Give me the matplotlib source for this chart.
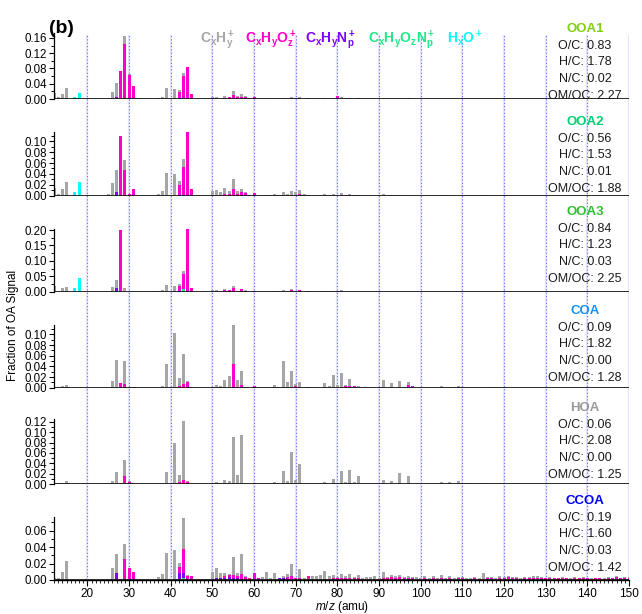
import numpy as np
import matplotlib
matplotlib.use("Agg")
import matplotlib.pyplot as plt
from matplotlib.ticker import MultipleLocator, FormatStrFormatter

plt.rcParams['font.family'] = ['Liberation Sans', 'DejaVu Sans']
plt.rcParams['mathtext.fontset'] = 'custom'
plt.rcParams['mathtext.rm'] = 'Liberation Sans'
plt.rcParams['mathtext.it'] = 'Liberation Sans:italic'
plt.rcParams['mathtext.bf'] = 'Liberation Sans:bold'

mz = np.arange(12, 151)

# ---- spectra, (m/z, fraction) pairs per ion family ----
ooa1_ch = [(12, .017), (13, .006), (14, .013), (15, .030), (25, .002), (26, .018), (27, .038), (29, .019),
           (30, .002), (37, .002), (38, .005), (39, .030), (41, .025), (42, .006), (43, .010), (44, .002),
           (50, .004), (51, .004), (53, .006), (55, .012), (56, .003), (57, .006), (58, .002), (63, .001),
           (65, .002), (67, .003), (69, .003), (71, .001), (77, .002), (79, .002), (81, .002), (91, .002), (93, .001)]
ooa1_cho = [(28, .073), (29, .145), (30, .063), (31, .034), (42, .015), (43, .057), (44, .083), (45, .013),
            (47, .001), (53, .002), (54, .004), (55, .010), (56, .004), (57, .006), (58, .005), (59, .003),
            (60, .005), (69, .002), (70, .002), (71, .003), (72, .001), (73, .002), (80, .008), (81, .002),
            (82, .002), (83, .002), (84, .001), (85, .002), (97, .003), (98, .001)]
ooa1_chn = [(27, .004), (42, .003)]
ooa1_chon = [(43, .002)]
ooa1_ho = [(17, .004), (18, .016)]

ooa2_ch = [(12, .015), (13, .004), (14, .013), (15, .025), (25, .004), (26, .023), (27, .042), (29, .019),
           (37, .004), (38, .009), (39, .042), (41, .039), (42, .007), (43, .014), (50, .009), (51, .010),
           (52, .007), (53, .012), (54, .005), (55, .018), (56, .005), (57, .006), (58, .002), (63, .002),
           (65, .003), (66, .002), (67, .006), (68, .004), (69, .007), (70, .004), (71, .008), (72, .002),
           (77, .003), (79, .003), (81, .003), (82, .001), (83, .002), (91, .004), (93, .002), (95, .002),
           (105, .001), (115, .001)]
ooa2_cho = [(28, .110), (29, .047), (30, .004), (31, .012), (42, .018), (43, .051), (44, .117), (45, .012),
            (47, .001), (53, .003), (54, .003), (55, .013), (56, .004), (57, .006), (58, .005), (59, .002),
            (60, .005), (69, .002), (70, .002), (71, .003), (72, .002), (73, .002), (81, .002), (82, .001),
            (83, .001), (84, .001), (85, .001)]
ooa2_chn = [(27, .006), (42, .002)]
ooa2_chon = [(43, .002)]
ooa2_ho = [(17, .006), (18, .025)]

ooa3_ch = [(12, .018), (13, .002), (14, .011), (15, .014), (26, .016), (27, .024), (29, .011), (37, .003),
           (38, .006), (39, .022), (41, .018), (42, .005), (43, .008), (44, .003), (50, .004), (51, .005),
           (52, .003), (53, .004), (55, .006), (56, .003), (57, .002), (58, .002), (65, .003), (67, .004),
           (68, .002), (69, .003), (70, .002), (77, .002), (79, .002), (81, .002)]
ooa3_cho = [(28, .200), (42, .017), (43, .049), (44, .202), (45, .013), (53, .005), (54, .006), (55, .012),
            (57, .008), (58, .002), (60, .002), (69, .006), (71, .006), (73, .002), (80, .002), (81, .002)]
ooa3_chn = [(27, .013), (42, .003)]
ooa3_chon = [(43, .010)]
ooa3_ho = [(17, .011), (18, .044)]

coa_ch = [(12, .001), (13, .002), (14, .003), (15, .005), (26, .013), (27, .052), (29, .043), (30, .001),
          (38, .003), (39, .044), (40, .001), (41, .102), (42, .016), (43, .057), (44, .001), (50, .002),
          (51, .005), (52, .003), (53, .014), (54, .022), (55, .075), (56, .012), (57, .027), (58, .002),
          (65, .006), (66, .002), (67, .050), (68, .011), (69, .030), (70, .004), (71, .008), (77, .009),
          (78, .003), (79, .024), (80, .005), (81, .025), (82, .003), (83, .013), (85, .004), (91, .014),
          (93, .009), (95, .013), (96, .002), (97, .006), (105, .003), (107, .002), (109, .002), (117, .001),
          (119, .001)]
coa_cho = [(28, .009), (29, .007), (31, .001), (42, .003), (43, .007), (44, .011), (45, .002), (55, .044),
           (56, .002), (57, .005), (60, .003), (69, .002), (70, .003), (71, .002), (73, .002), (81, .002),
           (82, .003), (83, .003), (84, .004), (97, .005), (98, .003), (109, .001)]
coa_chn = []
coa_chon = []
coa_ho = [(18, .001)]

hoa_ch = [(12, .001), (13, .002), (14, .002), (15, .006), (26, .006), (27, .024), (29, .032), (30, .001),
          (38, .002), (39, .023), (41, .079), (42, .013), (43, .113), (44, .002), (51, .004), (52, .002),
          (53, .008), (54, .006), (55, .088), (56, .018), (57, .094), (58, .002), (65, .004), (67, .026),
          (68, .006), (69, .061), (70, .008), (71, .039), (73, .001), (77, .005), (79, .010), (81, .026),
          (82, .004), (83, .025), (84, .004), (85, .016), (91, .009), (93, .007), (95, .021), (97, .016),
          (105, .005), (107, .004), (109, .007), (111, .002), (115, .002), (117, .001), (119, .002),
          (121, .001), (123, .002), (125, .001)]
hoa_cho = [(28, .003), (29, .015), (30, .005), (31, .003), (42, .003), (43, .008), (44, .004), (55, .003),
           (60, .002), (69, .001)]
hoa_chn = [(42, .001), (83, .002)]
hoa_chon = []
hoa_ho = []

ccoa_ch = [(12, .003), (13, .003), (14, .010), (15, .023), (25, .001), (26, .014), (27, .024), (29, .018),
           (37, .004), (38, .007), (39, .033), (41, .036), (42, .005), (43, .038), (44, .001), (48, .001),
           (50, .009), (51, .012), (52, .005), (53, .004), (54, .001), (55, .022), (56, .003), (57, .025),
           (58, .001), (61, .001), (62, .004), (63, .010), (64, .003), (65, .009), (66, .001), (67, .002),
           (68, .003), (69, .015), (70, .001), (71, .010), (72, .002), (74, .005), (75, .005), (76, .006)]
ccoa_cho = [(29, .026), (30, .014), (31, .010), (42, .008), (43, .030), (44, .005), (45, .005), (47, .001),
            (53, .003), (54, .002), (55, .004), (56, .003), (57, .007), (58, .003), (59, .003), (60, .009),
            (61, .002), (67, .001), (68, .003), (69, .005), (70, .002), (71, .003), (73, .005)]
ccoa_chn = [(27, .008), (42, .008), (43, .005), (50, .001), (51, .002), (52, .003), (53, .002), (54, .004),
            (55, .002), (56, .002), (66, .002), (67, .002), (68, .001)]
ccoa_chon = [(43, .003), (58, .001), (128, .001)]
ccoa_ho = []
# CCOA carpet of small ions, m/z 77..150
ccoa_tail_mz = list(range(77, 151))
ccoa_tail_ch = [.010, .004, .004, .001, .004, .003, .005, .002, .004, .002, .003, .003, .004, .001, .008, .002,
                .002, .003, .002, .002, .003, .002, .003, .002, .003, .002, .003, .002, .004, .002, .003, .002,
                .002, .002, .002, .002, .002, .002, .008, .002, .002, .002, .003, .001, .001, .002, .002, .002,
                .002, .002, .003, .003, .002, .001, .002, .001, .001, .002, .001, .001, .002, .001, .002, .001,
                .002, .001, .001, .001, .002, .001, .001, .001, .002, .001]
ccoa_tail_cho = [.001, .001, .002, .003, .003, .002, .002, .002, .002, .001, .001, .001, .001, .001, .002, .002,
                 .004, .002, .004, .002, .002, .002, .001, .001, .002, .001, .002, .001, .002, .001, .002, .001,
                 .002, .002, .001, .001, .002, .001, .001, .002, .002, .001, .002, .003, .004, .002, .002, .001,
                 .002, .002, .002, .001, .002, .002, .002, .002, .002, .002, .002, .001, .002, .002, .002, .002,
                 .001, .002, .002, .001, .002, .002, .004, .002, .002, .003]

ccoa_ch = ccoa_ch + list(zip(ccoa_tail_mz, ccoa_tail_ch))
ccoa_cho = ccoa_cho + list(zip(ccoa_tail_mz, ccoa_tail_cho))

names = ['OOA1', 'OOA2', 'OOA3', 'COA', 'HOA', 'CCOA']
name_colors = ['#80D010', '#00D070', '#30C030', '#1890F0', '#999999', '#0000FF']
oc = [0.83, 0.56, 0.84, 0.09, 0.06, 0.19]
hc = [1.78, 1.53, 1.23, 1.82, 2.08, 1.60]
nc = [0.02, 0.01, 0.03, 0.00, 0.00, 0.03]
omoc = [2.27, 1.88, 2.25, 1.28, 1.25, 1.42]

spectra = [
    [ooa1_ho, ooa1_chon, ooa1_chn, ooa1_cho, ooa1_ch],
    [ooa2_ho, ooa2_chon, ooa2_chn, ooa2_cho, ooa2_ch],
    [ooa3_ho, ooa3_chon, ooa3_chn, ooa3_cho, ooa3_ch],
    [coa_ho, coa_chon, coa_chn, coa_cho, coa_ch],
    [hoa_ho, hoa_chon, hoa_chn, hoa_cho, hoa_ch],
    [ccoa_ho, ccoa_chon, ccoa_chn, ccoa_cho, ccoa_ch],
]
# stacking order bottom -> top: HxO, CHON, CHN, CHO, CH
fam_colors = ['#00FFFF', '#20E888', '#7F00FF', '#FF00CC', '#A6A6A6']

W, H = 642, 614
fig = plt.figure(figsize=(W / 100, H / 100), dpi=100)

def box(left, top, right, bottom):
    return [left / W, 1 - bottom / H, (right - left) / W, (bottom - top) / H]

X0, X1 = 54, 629
# panel pixel extents (baseline, top of axis) and y scales
bases = [99, 195.7, 291.7, 387.7, 484.3, 580]
tops = [33, 132.3, 229.3, 325, 419.3, 517.3]
ymaxes = [0.173, 0.1165, 0.2023, 0.1176, 0.1246, 0.0763]
majors = [0.04, 0.02, 0.05, 0.02, 0.02, 0.02]
minors = [0.02, 0.01, 0.025, 0.01, 0.01, 0.01]
title_y = [29, 122, 212, 311, 408, 501]

# background dotted grid lines spanning all panels
bg = fig.add_axes(box(X0, 35, X1, 580), zorder=0)
bg.set_xlim(12, 150)
bg.set_ylim(0, 1)
bg.axis('off')
for x in range(20, 151, 10):
    bg.axvline(x, color='#E6E6FF', lw=1.6, zorder=0)
    bg.axvline(x, color='#6A6AFF', lw=0.8, ls=(0, (1, 2)), zorder=1)

for i in range(6):
    ax = fig.add_axes(box(X0, tops[i], X1, bases[i]), zorder=2)
    ax.patch.set_alpha(0)
    bottom = np.zeros(len(mz))
    for pairs, col in zip(spectra[i], fam_colors):
        vals = np.zeros(len(mz))
        for m, v in pairs:
            vals[m - 12] += v
        if vals.sum() == 0:
            continue
        ax.bar(mz, vals, bottom=bottom, width=0.72, color=col, linewidth=0, zorder=2)
        bottom += vals
    ax.axhline(0, color='#1A1A1A', lw=1.3, zorder=3)
    ax.set_xlim(12, 150)
    ax.set_ylim(0, ymaxes[i])
    ax.yaxis.set_major_locator(MultipleLocator(majors[i]))
    ax.yaxis.set_minor_locator(MultipleLocator(minors[i]))
    ax.yaxis.set_major_formatter(FormatStrFormatter('%.2f'))
    ax.tick_params(axis='y', which='major', direction='out', length=3.5, width=0.8, labelsize=8.3, pad=1.5)
    ax.tick_params(axis='y', which='minor', direction='out', length=2, width=0.7)
    for s in ['top', 'right']:
        ax.spines[s].set_visible(False)
    ax.spines['left'].set_linewidth(0.9)
    if i < 5:
        ax.spines['bottom'].set_visible(False)
        ax.set_xticks([])
    else:
        ax.spines['bottom'].set_linewidth(1.0)
        ax.xaxis.set_minor_locator(MultipleLocator(1))
        ax.set_xticks(range(20, 151, 10))
        ax.tick_params(axis='x', which='major', direction='out', length=4, width=0.8, labelsize=8.5, pad=2)
        ax.tick_params(axis='x', which='minor', direction='out', length=2.2, width=0.6)

    # composition text on the right
    cx = 585 / W
    y0 = title_y[i]
    fig.text(cx, 1 - y0 / H, names[i], color=name_colors[i], fontsize=9.5, fontweight='bold',
             ha='center', va='center', zorder=5)
    lines = ['O/C: %.2f' % oc[i], 'H/C: %.2f' % hc[i], 'N/C: %.2f' % nc[i], 'OM/OC: %.2f' % omoc[i]]
    for k, t in enumerate(lines):
        fig.text(cx, 1 - (y0 + 16.7 * (k + 1)) / H, t, color='#1A1A1A', fontsize=9,
                 ha='center', va='center', zorder=5)

# top legend of ion families
leg_labels = [r'$\mathbf{C_xH_y^+}$', r'$\mathbf{C_xH_yO_z^+}$', r'$\mathbf{C_xH_yN_p^+}$',
              r'$\mathbf{C_xH_yO_zN_p^+}$', r'$\mathbf{H_xO^+}$']
leg_x = [200, 245, 305, 368, 447]
leg_cols = ['#A6A6A6', '#FF00CC', '#7F00FF', '#20E888', '#00FFFF']
for lab, lx, lc in zip(leg_labels, leg_x, leg_cols):
    fig.text(lx / W, 1 - 43 / H, lab, color=lc, fontsize=10, ha='left', va='baseline')

fig.text(49 / W, 1 - 33 / H, '(b)', fontsize=14, fontweight='bold', ha='left', va='baseline')
fig.text(13 / W, 1 - 325 / H, 'Fraction of OA Signal', rotation=90, fontsize=8.5, ha='center', va='center')
fig.text(342 / W, 1 - 607 / H, r'$\it{m/z}$ (amu)', fontsize=8.5, ha='center', va='center')

fig.savefig('out.png', dpi=100)
